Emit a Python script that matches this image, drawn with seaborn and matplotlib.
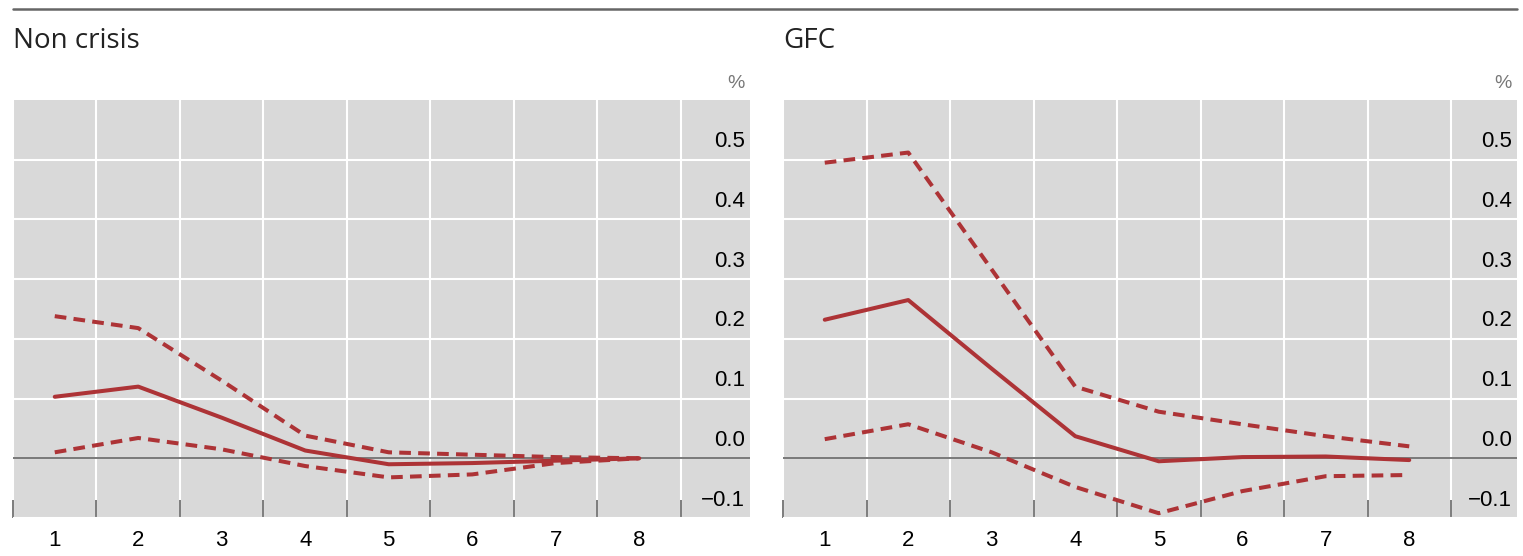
import matplotlib
matplotlib.use("Agg")
import matplotlib.pyplot as plt
import seaborn as sns
import pandas as pd
import numpy as np
from matplotlib.lines import Line2D

# ---- data ----
quarters = [1, 2, 3, 4, 5, 6, 7, 8]
y_ticks = [-0.1, 0.0, 0.1, 0.2, 0.3, 0.4, 0.5]

nc_mid = [0.103, 0.120, 0.068, 0.013, -0.010, -0.008, -0.004, 0.000]
nc_up = [0.238, 0.218, 0.130, 0.038, 0.010, 0.006, 0.002, 0.000]
nc_lo = [0.010, 0.034, 0.015, -0.013, -0.032, -0.027, -0.008, 0.000]

gfc_mid = [0.232, 0.265, 0.150, 0.037, -0.005, 0.002, 0.003, -0.003]
gfc_up = [0.495, 0.512, 0.316, 0.120, 0.078, 0.057, 0.037, 0.020]
gfc_lo = [0.032, 0.057, 0.010, -0.048, -0.092, -0.055, -0.030, -0.028]

titles = ["Non crisis", "GFC"]

# ---- style ----
sns.set_theme(style="darkgrid")
plt.rcParams['font.family'] = ['Liberation Sans', 'DejaVu Sans']

RED = "#ad3336"
W, H = 1523, 556
fig = plt.figure(figsize=(W / 100, H / 100), dpi=100)

panels = [
    (titles[0], nc_mid, nc_up, nc_lo, 13, 750),
    (titles[1], gfc_mid, gfc_up, gfc_lo, 783, 1517),
]
AX_TOP, AX_BOT = 100, 518
unit_px = 83.5

for title, mid, up, lo, x0, x1 in panels:
    ax = fig.add_axes([x0 / W, (H - AX_BOT) / H, (x1 - x0) / W, (AX_BOT - AX_TOP) / H])
    ax.set_facecolor("#d9d9d9")
    df = pd.DataFrame({"q": quarters, "mid": mid, "up": up, "lo": lo})

    ax.axhline(0, color="#555555", lw=1.1, zorder=1.5)
    sns.lineplot(data=df, x="q", y="mid", ax=ax, color=RED, lw=2.9, zorder=3)
    for col in ["up", "lo"]:
        sns.lineplot(data=df, x="q", y=col, ax=ax, color=RED, lw=2.9,
                     linestyle=(0, (2.9, 1.8)), zorder=3)

    ax.set_xlim(0.5, 0.5 + (x1 - x0) / unit_px)
    ax.set_ylim(-0.1, 0.6)
    ax.set_xlabel("")
    ax.set_ylabel("")

    ax.set_xticks(quarters)
    ax.set_xticklabels([str(q) for q in quarters])
    ax.set_xticks(np.arange(0.5, 9.0, 1.0), minor=True)
    ax.set_yticks(y_ticks)
    ax.set_yticklabels([])

    ax.grid(False)
    ax.grid(True, axis="x", which="minor", color="white", lw=1.5)
    ax.grid(True, axis="y", which="major", color="white", lw=1.5)

    ax.tick_params(axis="x", which="major", length=0, labelsize=16, pad=9,
                   labelcolor="#000000")
    ax.tick_params(axis="x", which="minor", bottom=True, direction="in",
                   length=13, width=1.2, color="#666666")
    ax.tick_params(axis="y", which="both", length=0, left=False, right=False)
    for s in ax.spines.values():
        s.set_visible(False)

    # right-side y labels inside the grey area
    xr = 1 - 5 / (x1 - x0)
    for v in y_ticks:
        lab = f"{v:.1f}".replace("-", "\u2212")
        ax.text(xr, v + 0.03, lab, transform=ax.get_yaxis_transform(),
                ha="right", va="center", fontsize=16, color="#000000")
    ax.text(xr, 1 + (AX_TOP - 83) / (AX_BOT - AX_TOP), "%", transform=ax.transAxes,
            ha="right", va="center", fontsize=14, color="#777777")

    fig.text(x0 / W, 1 - 41 / H, title, fontsize=20, family=["Open Sans", "DejaVu Sans"],
             ha="left", va="center", color="#222222")

fig.add_artist(Line2D([13 / W, 1517 / W], [1 - 9 / H, 1 - 9 / H],
                      color="#666666", lw=1.8, transform=fig.transFigure))

fig.savefig("out.png", dpi=100)
